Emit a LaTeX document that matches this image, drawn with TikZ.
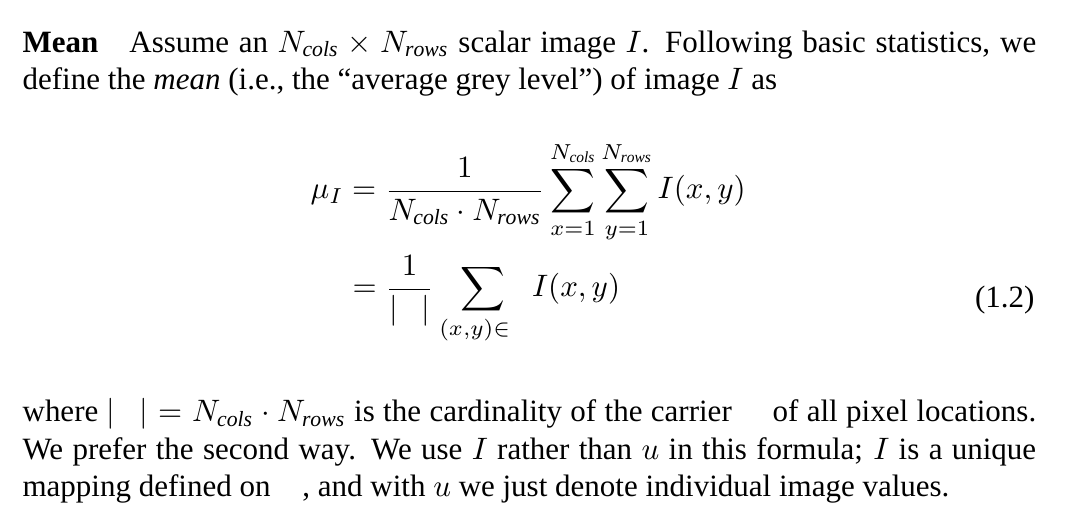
\documentclass[tikz,border=0pt]{standalone}
\usepackage{amsmath}
\usepackage{fontspec}
\setmainfont{Liberation Serif}
\begin{document}
\begin{tikzpicture}[x=0.3226pt,y=-0.3226pt,
  para/.style={anchor=north west,text width=327pt,align=justify,inner sep=0pt,font=\fontsize{10}{12}\selectfont},
  eq/.style={inner sep=0pt,font=\fontsize{10}{12}\selectfont}]
\useasboundingbox (0,0) rectangle (1076,532);
\node[para] (p1) at (22,30) {\textbf{Mean}\quad Assume an $N_{\mathit{cols}}\times N_{\mathit{rows}}$ scalar image $I$. Following basic statistics, we define the \textit{mean} (i.e., the ``average grey level'') of image $I$ as};
\node[eq,anchor=west] (e1) at (310,192) {$\displaystyle \mu_I=\frac{1}{N_{\mathit{cols}}\cdot N_{\mathit{rows}}}\sum_{x=1}^{N_{\mathit{cols}}}\sum_{y=1}^{N_{\mathit{rows}}} I(x,y)$};
\node[eq,anchor=west] (e2) at (352,300) {$\displaystyle =\frac{1}{|\mathit{\Omega}|}\sum_{(x,y)\in\mathit{\Omega}} I(x,y)$};
\node[eq,anchor=east] (num) at (1035,300) {(1.2)};
\node[para] (p2) at (22,398) {where $|\mathit{\Omega}|=N_{\mathit{cols}}\cdot N_{\mathit{rows}}$ is the cardinality of the carrier $\mathit{\Omega}$ of all pixel locations. We prefer the second way. We use $I$ rather than $u$ in this formula; $I$ is a unique mapping defined on $\mathit{\Omega}$, and with $u$ we just denote individual image values.};
\end{tikzpicture}
\end{document}
